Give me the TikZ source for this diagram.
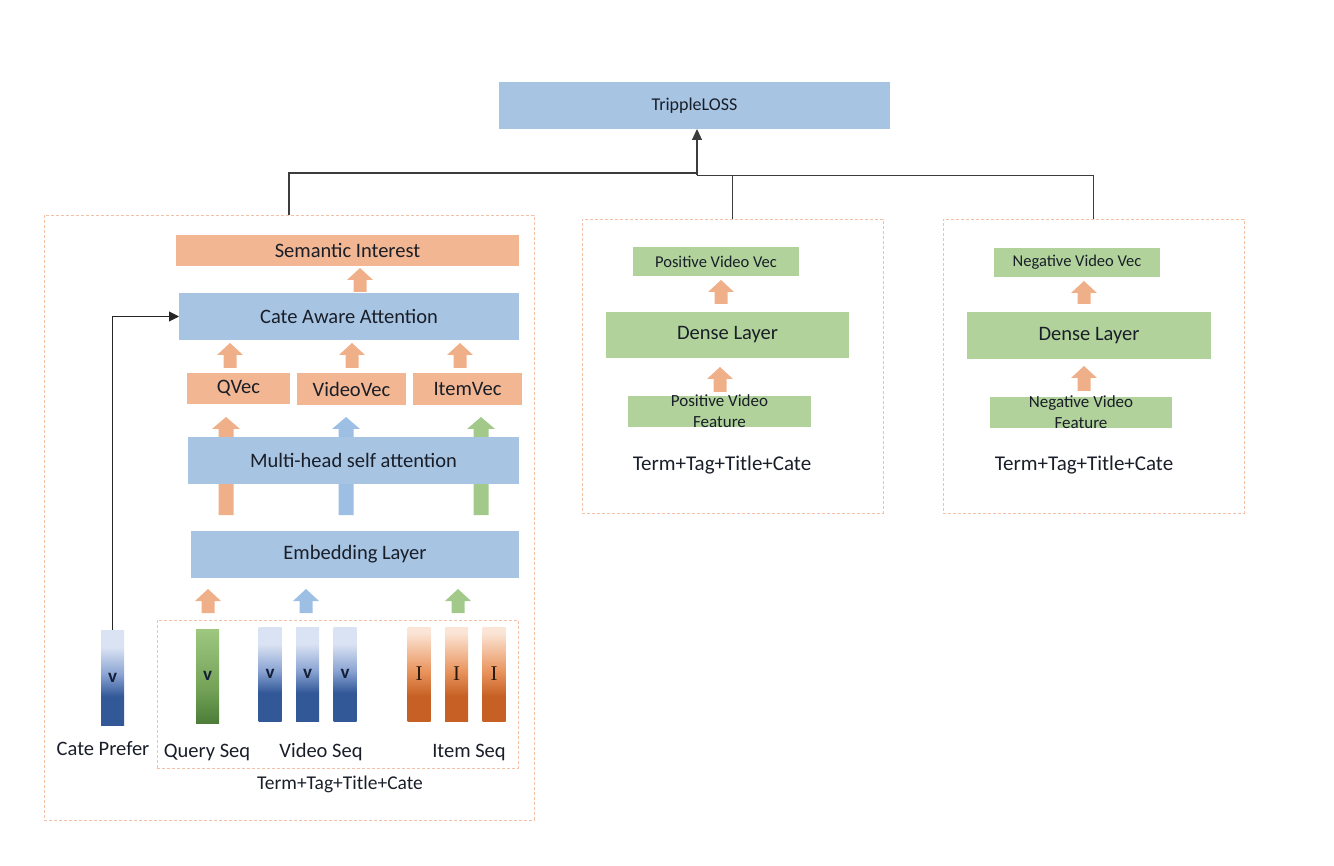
\documentclass[tikz,border=0pt]{standalone}
\usepackage{fontspec}
\setmainfont{Carlito}
\newfontfamily\serifI{Liberation Serif}
\usetikzlibrary{arrows.meta}
\definecolor{bfill}{RGB}{167,196,227}
\definecolor{ofill}{RGB}{242,182,146}
\definecolor{gfill}{RGB}{177,211,155}
\definecolor{barr}{RGB}{158,191,228}
\definecolor{oarr}{RGB}{239,175,136}
\definecolor{garr}{RGB}{162,201,138}
\definecolor{txt}{RGB}{25,30,40}
\definecolor{dashc}{RGB}{244,192,164}
\definecolor{lc}{RGB}{60,60,60}
\definecolor{blight}{RGB}{218,227,243}
\definecolor{bmid}{RGB}{140,165,212}
\definecolor{bdark}{RGB}{50,88,152}
\definecolor{olight}{RGB}{251,229,214}
\definecolor{omid}{RGB}{234,150,96}
\definecolor{odark}{RGB}{198,96,36}
\definecolor{glight}{RGB}{158,199,128}
\definecolor{gmid}{RGB}{118,165,90}
\definecolor{gdark}{RGB}{78,125,57}
\pgfdeclareverticalshading{bluebar}{100bp}{color(0bp)=(bdark); color(25bp)=(bdark); color(40bp)=(bdark); color(52bp)=(bmid); color(66bp)=(blight); color(75bp)=(blight); color(100bp)=(blight)}
\pgfdeclareverticalshading{orbar}{100bp}{color(0bp)=(odark); color(25bp)=(odark); color(38bp)=(odark); color(52bp)=(omid); color(72bp)=(olight); color(75bp)=(olight); color(100bp)=(olight)}
\pgfdeclareverticalshading{grbar}{100bp}{color(0bp)=(gdark); color(25bp)=(gdark); color(45bp)=(gmid); color(75bp)=(glight); color(100bp)=(glight)}
\newcommand\upblk[6]{\fill[#1] (#2-#6,#4) -- (#2-#6,#3+12) -- (#2-#5,#3+12) -- (#2,#3) -- (#2+#5,#3+12) -- (#2+#6,#3+12) -- (#2+#6,#4) -- cycle;}
\tikzset{
  every node/.style={text=txt, inner sep=0pt, outer sep=0pt},
  bluebox/.style={fill=bfill},
  orbox/.style={fill=ofill},
  grbox/.style={fill=gfill},
  big/.style={font=\fontsize{20.5}{24}\selectfont},
  mid/.style={font=\fontsize{19.5}{23}\selectfont},
  small/.style={font=\fontsize{16.5}{21}\selectfont},
  panel/.style={draw=dashc, line width=0.8pt, dash pattern=on 3pt off 2pt},
  conn/.style={draw=lc, line width=1.2pt},
  bar/.style={minimum width=23pt, minimum height=95pt, shade},
  vlab/.style={font=\fontsize{19}{20}\selectfont\bfseries, text={rgb,255:red,20;green,30;blue,55}},
  ilab/.style={font=\serifI\fontsize{21}{22}\selectfont, text={rgb,255:red,40;green,25;blue,15}},
}
\begin{document}
\begin{tikzpicture}[x=1pt,y=-1pt]
\useasboundingbox (0,0) rectangle (1334,866);
% panels
\node[panel, minimum width=490pt, minimum height=605pt] (lp) at (289,517.5) {};
\node[panel, minimum width=301pt, minimum height=294pt] (mp) at (732.5,366) {};
\node[panel, minimum width=301pt, minimum height=294pt] (rp) at (1093.5,366) {};
\node[panel, minimum width=361pt, minimum height=148pt] (ip) at (337.5,694) {};
% top loss
\node[bluebox, font=\fontsize{18}{22}\selectfont, minimum width=391pt, minimum height=47pt] (loss) at (694.5,105.5) {TrippleLOSS};
\coordinate (j1) at (697,173);
\coordinate (j2) at (697,175.5);
\draw[conn] (lp.north) |- (j1);
\draw[conn] (mp.north) |- (j2);
\draw[conn] (rp.north) |- (j2);
\draw[conn, -{Triangle[length=11pt,width=10pt]}] (j2) -- (j2 |- loss.south);
% through arrows (behind MHSA)
\upblk{oarr}{226}{417}{515}{14}{7.5}
\upblk{barr}{346}{417}{515}{14}{7.5}
\upblk{garr}{481}{417}{515}{14}{7.5}
% left column boxes
\node[orbox, big, minimum width=343pt, minimum height=31pt] (sem) at (347.5,250.5) {Semantic Interest};
\node[bluebox, big, minimum width=340pt, minimum height=47pt] (caa) at (349,316.5) {Cate Aware Attention};
\node[orbox, big, minimum width=103pt, minimum height=31pt] (qv) at (238.5,388.5) {QVec};
\node[orbox, big, minimum width=109pt, minimum height=32pt] (vv) at (351.5,389) {VideoVec};
\node[orbox, big, minimum width=109pt, minimum height=32pt] (iv) at (467.5,389) {ItemVec};
\node[bluebox, big, minimum width=331pt, minimum height=47pt] (mh) at (353.5,460.5) {Multi-head self attention};
\node[bluebox, big, minimum width=328pt, minimum height=47pt] (emb) at (355,554.5) {Embedding Layer};
\upblk{oarr}{360}{268}{292}{13}{6.5}
\upblk{oarr}{230}{343}{368}{13}{6.5}
\upblk{oarr}{352}{343}{368}{13}{6.5}
\upblk{oarr}{460}{343}{368}{13}{6.5}
\upblk{oarr}{208}{589}{613}{13}{6.5}
\upblk{barr}{306}{589}{613}{13}{6.5}
\upblk{garr}{458}{589}{613}{13}{6.5}
% bars
\node[bar, shading=bluebar] (cp) at (112.5,677.5) {};
\node[vlab] at (cp) {v};
\node[bar, shading=grbar, minimum height=94pt] (q1) at (207.5,676) {};
\node[vlab] at (q1) {v};
\node[bar, shading=bluebar, minimum height=94pt] (v1) at (270,674) {};
\node[bar, shading=bluebar, minimum height=94pt] (v2) at (307.5,674) {};
\node[bar, shading=bluebar, minimum height=94pt] (v3) at (345,674) {};
\node[vlab] at (v1) {v};
\node[vlab] at (v2) {v};
\node[vlab] at (v3) {v};
\node[bar, shading=orbar, minimum height=94pt] (i1) at (419,674) {};
\node[bar, shading=orbar, minimum height=94pt] (i2) at (456.5,674) {};
\node[bar, shading=orbar, minimum height=94pt] (i3) at (494,674) {};
\node[ilab] at (i1) {I};
\node[ilab] at (i2) {I};
\node[ilab] at (i3) {I};
\draw[conn, line width=1pt, draw=black!85, -{Triangle[length=10pt,width=10pt]}] (cp.north) |- (caa.west);
% labels
\node[big] (lcp) at (103,749) {Cate Prefer};
\node[big] (lqs) at (207,752) {Query Seq};
\node[big] (lvs) at (321,752) {Video Seq};
\node[big] (lis) at (469,752) {Item Seq};
\node[mid] (lt) at (340,784) {Term+Tag+Title+Cate};
% middle panel
\node[grbox, small, minimum width=166pt, minimum height=29pt] (pvv) at (716,261.5) {Positive Video Vec};
\node[grbox, big, minimum width=243pt, minimum height=46pt] (d1) at (727.5,335) {Dense Layer};
\node[grbox, minimum width=183pt, minimum height=31pt] (pvf) at (719.5,411.5) {};
\node[small, font=\fontsize{17}{21}\selectfont, align=center] at (pvf) {Positive Video\\Feature};
\upblk{oarr}{721}{280}{304}{13}{6.5}
\upblk{oarr}{720}{367}{392}{13}{6.5}
\node[font=\fontsize{21}{24}\selectfont] (t1) at (722,465) {Term+Tag+Title+Cate};
% right panel
\node[grbox, small, minimum width=166pt, minimum height=29pt] (nvv) at (1077,262.5) {Negative Video Vec};
\node[grbox, big, minimum width=244pt, minimum height=47pt] (d2) at (1089,335.5) {Dense Layer};
\node[grbox, minimum width=182pt, minimum height=31pt] (nvf) at (1081,412.5) {};
\node[font=\fontsize{17}{21}\selectfont, align=center] at (nvf) {Negative Video\\Feature};
\upblk{oarr}{1084}{281}{304}{13}{6.5}
\upblk{oarr}{1084}{366}{391}{13}{6.5}
\node[font=\fontsize{21}{24}\selectfont] (t2) at (1084,465) {Term+Tag+Title+Cate};
\end{tikzpicture}
\end{document}
